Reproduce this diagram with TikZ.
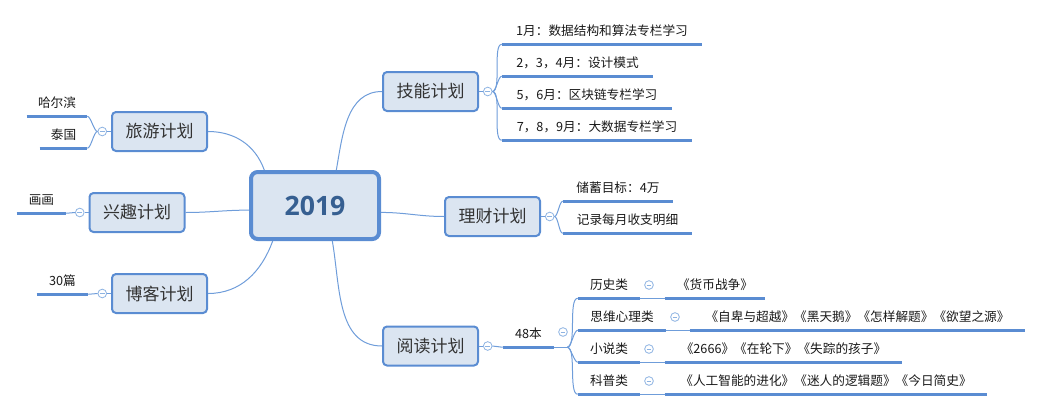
\documentclass[tikz,border=0pt]{standalone}
\usepackage{fontspec}
\setmainfont{Noto Sans CJK SC}
\newfontfamily\numfont{Open Sans}
\usetikzlibrary{positioning}
\definecolor{topicfill}{HTML}{DBE5F1}
\definecolor{topicline}{HTML}{5A8CD2}
\definecolor{wirecol}{HTML}{6F9DDA}
\definecolor{knobcol}{HTML}{8DB3E2}
\definecolor{yeartext}{HTML}{365F91}
\definecolor{topictext}{HTML}{333333}

\begin{document}
\begin{tikzpicture}[x=0.75pt,y=-0.75pt,node distance=3pt]
\tikzstyle{topic}=[draw=topicline,fill=topicfill,line width=1.5pt,rounded corners=3pt,minimum width=71.25pt,minimum height=29.25pt,inner sep=0pt,font=\fontsize{12.75}{15}\selectfont,text=topictext]
\tikzstyle{main}=[topic,line width=3pt,rounded corners=5pt,minimum width=96pt,minimum height=50.25pt,font=\numfont\bfseries\fontsize{20}{24}\selectfont,text=yeartext]
\tikzstyle{sub}=[inner sep=0pt,minimum height=19.5pt,text height=0.85em,text depth=0.15em,font=\fontsize{9.5}{11}\selectfont,text=black!90]
\tikzstyle{uline}=[draw=topicline,line width=2pt]
\tikzstyle{wire}=[draw=wirecol,line width=0.75pt]
\tikzstyle{knob}=[circle,draw=knobcol,fill=white,line width=0.6pt,minimum size=6.5pt,inner sep=0pt,path picture={\draw[knobcol,line width=0.6pt] ([xshift=-1.8pt]path picture bounding box.center) -- ([xshift=1.8pt]path picture bounding box.center);}]
\tikzstyle{forkr}=[out=0,in=180,looseness=0.5]
\tikzstyle{forkl}=[out=180,in=0,looseness=0.5]

\useasboundingbox (0,0) rectangle (1043,411);

% main topics
\node[main]  (year)   at (315,205.5)   {2019};
\node[topic] (travel) at (159.5,131.5) {旅游计划};
\node[topic] (hobby)  at (137,212.5)   {兴趣计划};
\node[topic] (blog)   at (159.5,293.5) {博客计划};
\node[topic] (skill)  at (430.5,91.5)  {技能计划};
\node[topic] (money)  at (492.5,216.5) {理财计划};
\node[topic] (read)   at (430.5,346)   {阅读计划};

% fold knobs
\node[knob] (k-travel) [left=of travel]  {};
\node[knob] (k-hobby)  [left=of hobby]   {};
\node[knob] (k-blog)   [left=of blog]    {};
\node[knob] (k-skill)  [right=of skill]  {};
\node[knob] (k-money)  [right=of money]  {};
\node[knob] (k-read)   [right=of read]   {};

% left leaves
\node[sub,minimum width=45pt]    (harbin) at (57,103)   {哈尔滨};
\node[sub,minimum width=35.25pt] (thai)   at (63.5,135) {泰国};
\node[sub,minimum width=36.75pt] (paint)  at (41.5,200) {画画};
\node[sub,minimum width=38.25pt] (posts)  at (62.5,281) {30篇};

% skill leaves
\node[sub,minimum width=150pt]    (s1) at (602,31)   {1月：数据结构和算法专栏学习};
\node[sub,minimum width=113.25pt] (s2) at (577.5,63) {2，3，4月：设计模式};
\node[sub,minimum width=127.5pt]  (s3) at (587,95)   {5，6月：区块链专栏学习};
\node[sub,minimum width=142.5pt]  (s4) at (597,127)  {7，8，9月：大数据专栏学习};

% money leaves
\node[sub,minimum width=82.5pt]  (m1) at (618,188)   {储蓄目标：4万};
\node[sub,minimum width=96.75pt] (m2) at (627.5,220) {记录每月收支明细};

% reading
\node[sub,minimum width=38.25pt] (n48) at (528.5,334) {48本};
\node[knob] (k-n48) at (563,332) {};
\coordinate (fork48) at ([xshift=9.75pt]n48.south east);

\node[sub,minimum width=46.5pt] (hist)  at (609,285) {历史类};
\node[sub,minimum width=66pt]   (mind)  at (622,317) {思维心理类};
\node[sub,minimum width=46.5pt] (novel) at (609,349) {小说类};
\node[sub,minimum width=46.5pt] (sci)   at (609,381) {科普类};

\node[knob] (k-hist)  [right=of hist]  {};
\node[knob] (k-mind)  [right=of mind]  {};
\node[knob] (k-novel) [right=of novel] {};
\node[knob] (k-sci)   [right=of sci]   {};

\node[sub,minimum width=75pt]     (b-hist)  at (715,285)   {《货币战争》};
\node[sub,minimum width=251.25pt] (b-mind)  at (857.5,317) {《自卑与超越》《黑天鹅》《怎样解题》《欲望之源》};
\node[sub,minimum width=177.75pt] (b-novel) at (783.5,349) {《2666》《在轮下》《失踪的孩子》};
\node[sub,minimum width=241.5pt]  (b-sci)   at (826,381)   {《人工智能的进化》《迷人的逻辑题》《今日简史》};

% underlines
\foreach \n in {harbin,thai,paint,posts,s1,s2,s3,s4,m1,m2,n48,hist,mind,novel,sci,b-hist,b-mind,b-novel,b-sci}
  \draw[uline] (\n.south west) -- (\n.south east);

% wires from the centre
\draw[wire] (year.145) to[out=110,in=0]  (travel.east);
\draw[wire] (year.184) to[out=180,in=0]  (hobby.east);
\draw[wire] (year.220) to[out=250,in=0]  (blog.east);
\draw[wire] (year.59)  to[out=80,in=180] (skill.west);
\draw[wire] (year.354) to[out=0,in=180]  (money.west);
\draw[wire] (year.296) to[out=-80,in=180] (read.west);

% left branches
\draw[wire] (travel.west) -- (k-travel.east);
\draw[wire] (k-travel.west) to[forkl] (harbin.south east);
\draw[wire] (k-travel.west) to[forkl] (thai.south east);
\draw[wire] (hobby.west) -- (k-hobby.east);
\draw[wire] (k-hobby.west) -- (paint.south east);
\draw[wire] (blog.west) -- (k-blog.east);
\draw[wire] (k-blog.west) -- (posts.south east);

% right branches
\draw[wire] (skill.east) -- (k-skill.west);
\foreach \n in {s1,s2,s3,s4}
  \draw[wire] (k-skill.east) to[forkr] (\n.south west);
\draw[wire] (money.east) -- (k-money.west);
\foreach \n in {m1,m2}
  \draw[wire] (k-money.east) to[forkr] (\n.south west);
\draw[wire] (read.east) -- (k-read.west);
\draw[wire] (k-read.east) -- (n48.south west);
\draw[wire] (n48.south east) -- (fork48);
\foreach \n in {hist,mind,novel,sci}
  \draw[wire] (fork48) to[forkr] (\n.south west);
\foreach \n in {hist,mind,novel,sci}
  \draw[wire] (\n.south east) -- (b-\n.south west);
\end{tikzpicture}
\end{document}
